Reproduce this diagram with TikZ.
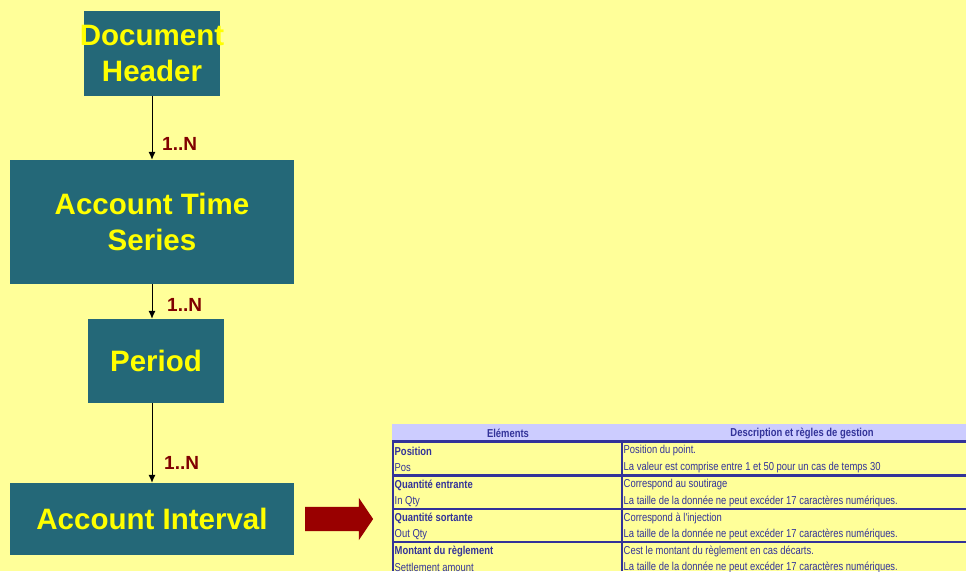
\documentclass[tikz,border=0pt]{standalone}
\usepackage{fontspec}
\setmainfont{Liberation Sans}
\newfontfamily\tabfont[FakeStretch=0.82]{Liberation Sans}
\usetikzlibrary{arrows.meta,shapes.arrows}
\definecolor{fundo}{HTML}{FFFF99}
\definecolor{caixa}{RGB}{36,104,120}
\definecolor{amarelo}{HTML}{FFFF00}
\definecolor{vinho}{HTML}{800000}
\definecolor{setacor}{HTML}{990000}
\definecolor{azul}{HTML}{333399}
\definecolor{lavanda}{HTML}{CCCCFF}
\begin{document}
\begin{tikzpicture}[x=1pt, y=-1pt,
                bloco/.style={fill=caixa, text=amarelo, inner sep=0pt, align=center,
                    font=\fontsize{29.5}{36}\selectfont\bfseries},
                aresta/.style={line width=1pt, -{Latex[length=8pt,width=7pt]}},
                mult/.style={text=vinho, anchor=west, inner sep=0pt,
                    font=\fontsize{19}{19}\selectfont\bfseries},
                celula/.style={text=azul, anchor=west, inner sep=0pt,
                    font=\tabfont\fontsize{11.5}{11.5}\selectfont},
                titulo/.style={celula, font=\tabfont\fontsize{11.5}{11.5}\selectfont\bfseries},
                linha/.style={draw=azul, line width=2.5pt},
            ]
            \clip (0,0) rectangle (966,571);
            \fill[fundo] (0,0) rectangle (966,571);
            % hierarchy
            \node[bloco, minimum width=136pt, minimum height=85pt] (dh) at (152,53.5)
                {\makebox[0pt]{Document}\\\makebox[0pt]{Header}};
            \node[bloco, minimum width=284pt, minimum height=124pt] (ats) at (152,222) {Account Time\\Series};
            \node[bloco, minimum width=136pt, minimum height=84pt] (per) at (156,361) {Period};
            \node[bloco, minimum width=284pt, minimum height=72pt] (ai) at (152,519) {Account Interval};
            \node[mult] (m1) at (162,143.5) {1..N};
            \node[mult] (m2) at (167,305) {1..N};
            \node[mult] (m3) at (164,463) {1..N};
            \draw[aresta] (dh) -- (ats);
            \draw[aresta] (ats.south) -- (ats.south |- per.north);
            \draw[aresta] (ats.south |- per.south) -- (ai);
            \node[single arrow, fill=setacor, inner sep=0pt, text height=12pt, text depth=12pt,
                minimum height=68pt, single arrow head extend=9pt, single arrow tip angle=112] (sa) at (335,519) {};
            % table
            \fill[lavanda] (392,424) rectangle (966,441);
            \node[titulo, anchor=center] (h1) at (508,433) {Eléments};
            \node[titulo, anchor=center] (h2) at (802,433) {Description et règles de gestion};
            \draw[linha] (392,441.5) -- (966,441.5);
            \draw[linha] (392,475.5) -- (966,475.5);
            \draw[linha] (392,509) -- (966,509);
            \draw[linha] (392,542) -- (966,542);
            \draw[azul, line width=2pt] (393,441) -- (393,571);
            \draw[azul, line width=1.5pt] (622,441) -- (622,571);
            \node[titulo] (e1) at (394.5,451) {Position};
            \node[celula] (c1) at (394.5,468) {Pos};
            \node[titulo] (e2) at (394.5,485) {Quantité entrante};
            \node[celula] (c2) at (394.5,501.5) {In Qty};
            \node[titulo] (e3) at (394.5,518) {Quantité sortante};
            \node[celula] (c3) at (394.5,534.5) {Out Qty};
            \node[titulo] (e4) at (394.5,551.5) {Montant du règlement};
            \node[celula] (c4) at (394.5,567.5) {Settlement amount};
            \node[celula] (d1) at (623.5,451) {Position du point.};
            \node[celula] (r1) at (623.5,468) {La valeur est comprise entre 1 et 50 pour un cas de temps 30};
            \node[celula] (d2) at (623.5,485) {Correspond au soutirage};
            \node[celula] (r2) at (623.5,501.5) {La taille de la donnée ne peut excéder 17 caractères numériques.};
            \node[celula] (d3) at (623.5,518) {Correspond à l'injection};
            \node[celula] (r3) at (623.5,534.5) {La taille de la donnée ne peut excéder 17 caractères numériques.};
            \node[celula] (d4) at (623.5,551.5) {Cest le montant du règlement en cas décarts.};
            \node[celula] (r4) at (623.5,567.5) {La taille de la donnée ne peut excéder 17 caractères numériques.};
        \end{tikzpicture}
\end{document}
